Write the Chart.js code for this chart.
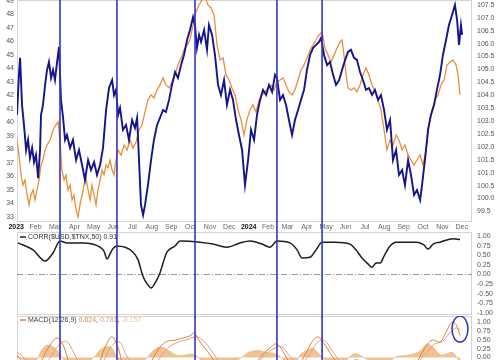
<!DOCTYPE html>
<html>
<head>
<meta charset="utf-8">
<script src="https://cdn.jsdelivr.net/npm/chart.js@4.4.1/dist/chart.umd.min.js"></script>
<style>
  html, body { margin: 0; padding: 0; background: #fff; overflow: hidden; }
  #wrap { position: relative; width: 500px; height: 360px; overflow: hidden; background: #fff; }
  canvas { position: absolute; left: 0; }
</style>
</head>
<body>
<div id="wrap">
  <canvas id="price" width="500" height="232" style="top:0px"></canvas>
  <canvas id="corr" width="500" height="86" style="top:232px"></canvas>
  <canvas id="macd" width="500" height="56" style="top:316px"></canvas>
</div>
<script>
// x axis is in months since Jan 2023
const monthLabels = ['2023','Feb','Mar','Apr','May','Jun','Jul','Aug','Sep','Oct','Nov','Dec',
                     '2024','Feb','Mar','Apr','May','Jun','Jul','Aug','Sep','Oct','Nov','Dec'];
const markerMonths = [2.26, 5.20, 9.23, 13.46, 15.79];

// $USD (right axis)
const usdMonths = [0.04,0.14,0.20,0.30,0.40,0.51,0.61,0.71,0.82,0.92,1.02,1.13,1.23,1.28,1.38,1.49,1.59,1.69,1.80,1.90,
  2.00,2.11,2.21,2.31,2.42,2.52,2.62,2.78,2.93,3.09,3.24,3.40,3.55,3.71,3.86,4.02,4.17,4.33,4.48,4.64,
  4.79,4.95,5.05,5.15,5.26,5.36,5.51,5.67,5.82,5.98,6.13,6.24,6.34,6.44,6.55,6.65,6.80,6.96,7.11,7.27,
  7.42,7.58,7.73,7.89,8.04,8.20,8.35,8.51,8.66,8.82,8.97,9.13,9.23,9.33,9.44,9.54,9.70,9.85,9.95,10.11,
  10.26,10.42,10.57,10.73,10.88,11.04,11.19,11.35,11.50,11.66,11.81,11.97,12.12,12.28,12.43,12.59,12.74,12.90,13.05,13.21,
  13.36,13.46,13.62,13.77,13.93,14.08,14.24,14.39,14.55,14.70,14.86,15.01,15.17,15.32,15.48,15.63,15.74,15.89,16.05,16.20,
  16.36,16.51,16.67,16.82,16.98,17.13,17.28,17.44,17.59,17.75,17.90,18.06,18.21,18.37,18.52,18.68,18.83,18.99,19.14,19.30,
  19.45,19.61,19.76,19.92,20.07,20.23,20.38,20.54,20.69,20.85,20.95,21.10,21.26,21.41,21.57,21.72,21.88,22.03,22.19,22.34,
  22.50,22.65,22.76,22.86,22.96,23.02];
const usdValues = [103.24,104.79,105.45,103.62,102.85,101.88,102.27,101.57,101.96,101.41,
  101.69,100.79,101.88,103.24,103.62,104.40,104.98,105.29,104.67,104.98,
  104.59,105.29,105.87,103.82,103.12,102.27,102.46,101.96,102.27,101.49,
  101.88,101.30,100.72,101.49,101.10,101.41,100.91,101.30,101.96,103.43,
  104.28,104.59,104.01,104.21,103.24,103.51,102.66,102.85,102.27,103.04,
  102.73,103.12,101.49,99.75,99.36,99.75,100.52,101.49,102.27,102.85,
  103.12,103.43,103.35,103.82,104.40,104.90,104.67,105.17,105.56,106.14,
  106.53,107.03,106.72,105.83,106.34,106.07,106.53,105.76,106.72,106.34,
  105.56,104.40,104.01,104.59,103.62,104.21,103.82,103.04,102.46,101.88,
  100.52,101.49,102.66,102.27,103.24,103.82,104.21,104.01,104.40,104.13,
  104.79,104.67,103.82,104.01,103.62,103.04,102.46,103.04,103.43,103.82,
  104.21,104.98,105.56,105.83,105.95,106.07,106.22,105.56,105.17,105.29,
  104.79,104.40,104.59,104.98,105.37,105.68,105.76,105.45,105.37,104.90,
  104.59,104.21,104.28,104.01,104.21,103.82,104.01,103.43,102.66,103.04,
  101.49,101.88,100.91,101.10,100.52,101.49,100.91,100.14,100.33,99.94,
  100.52,101.49,102.66,103.24,103.62,104.21,104.79,105.56,106.14,106.72,
  107.11,107.50,106.92,105.95,106.72,106.34];

// $TNX (left axis)
const tnxMonths = [0.04,0.14,0.25,0.35,0.45,0.56,0.66,0.76,0.87,0.97,1.07,1.18,1.28,1.38,1.49,1.59,1.75,1.90,2.05,2.16,
  2.26,2.36,2.47,2.57,2.67,2.78,2.88,2.98,3.09,3.19,3.29,3.40,3.50,3.60,3.71,3.81,3.91,4.02,4.12,4.22,
  4.33,4.43,4.53,4.64,4.74,4.84,4.95,5.05,5.15,5.26,5.41,5.57,5.72,5.88,6.03,6.19,6.34,6.49,6.65,6.80,
  6.96,7.11,7.27,7.42,7.58,7.73,7.89,8.04,8.20,8.35,8.51,8.66,8.82,8.97,9.13,9.28,9.44,9.59,9.75,9.90,
  10.06,10.21,10.37,10.52,10.68,10.83,10.99,11.14,11.30,11.45,11.61,11.76,11.91,12.07,12.22,12.38,12.54,12.69,12.85,13.00,
  13.15,13.31,13.46,13.62,13.77,13.93,14.08,14.24,14.39,14.55,14.70,14.86,15.01,15.17,15.32,15.48,15.63,15.79,15.94,16.10,
  16.25,16.41,16.56,16.72,16.82,16.92,17.03,17.13,17.28,17.44,17.59,17.75,17.90,18.06,18.21,18.37,18.52,18.68,18.83,18.99,
  19.14,19.30,19.45,19.61,19.76,19.92,20.07,20.23,20.38,20.54,20.69,20.85,21.00,21.16,21.31,21.47,21.62,21.78,21.93,22.09,
  22.24,22.40,22.55,22.71,22.81,22.91];
const tnxValues = [38.70,37.59,36.11,35.37,35.74,34.63,33.89,34.63,35.00,34.26,
  35.00,35.74,36.85,37.22,37.96,38.33,38.70,39.44,39.81,40.04,
  38.70,36.48,35.74,36.11,35.00,35.37,34.26,34.63,33.52,33.00,
  33.89,34.63,35.37,35.89,35.00,34.26,35.37,34.63,33.89,35.00,
  35.74,36.48,36.11,36.85,36.63,37.22,36.48,36.11,37.22,37.96,
  37.59,38.33,37.96,38.70,38.11,38.56,39.44,39.81,40.78,41.67,
  42.04,41.81,42.41,42.78,43.30,42.78,42.56,43.00,43.52,44.26,
  44.78,45.37,45.74,46.11,47.22,48.19,48.70,49.07,49.30,48.70,
  48.48,47.96,45.74,44.63,44.78,43.52,43.15,42.56,42.04,40.93,
  40.19,39.07,40.19,40.93,41.30,40.78,41.67,42.04,42.26,42.56,
  42.78,42.41,43.00,43.15,43.30,42.78,42.26,42.04,42.41,43.15,
  43.89,44.26,44.78,45.37,45.74,46.11,46.48,46.70,45.52,45.00,
  44.48,45.00,45.52,45.96,46.11,45.00,43.52,42.56,42.41,42.56,
  42.26,42.78,43.52,44.04,43.52,42.78,42.26,41.67,40.93,39.44,
  37.96,38.70,38.33,39.07,38.70,37.96,38.33,37.59,37.22,36.85,
  37.22,37.59,36.85,37.96,39.81,40.93,41.67,42.04,42.78,43.15,
  44.26,44.48,44.63,44.26,43.52,42.04];

// CORR($USD,$TNX,50)
const corrMonths = [0.09,0.87,1.49,1.90,2.26,2.62,3.45,4.33,4.53,4.69,4.84,4.95,5.20,6.03,6.29,6.55,6.80,6.96,7.17,7.42,
  7.63,7.78,8.20,8.46,9.49,10.16,10.52,10.88,11.55,12.07,12.69,13.10,13.46,14.13,14.50,14.75,15.17,15.48,15.79,16.46,
  17.23,17.54,17.85,18.17,18.37,18.58,18.79,18.99,19.30,19.61,20.69,21.05,21.26,21.52,21.88,22.55,22.91];
const corrValues = [0.82,0.64,0.35,0.56,0.87,0.82,0.82,0.71,0.61,0.40,0.53,0.64,0.74,0.58,0.38,-0.06,-0.27,-0.35,-0.22,0.04,
  0.38,0.58,0.74,0.87,0.84,0.79,0.74,0.71,0.82,0.87,0.79,0.71,0.87,0.82,0.64,0.43,0.45,0.64,0.84,0.84,
  0.79,0.64,0.43,0.27,0.19,0.30,0.30,0.48,0.74,0.84,0.84,0.77,0.66,0.79,0.84,0.93,0.91];

// MACD(12,26,9)
const macdMonths = [0.04,0.45,0.97,1.33,1.75,2.11,2.42,2.78,3.29,3.81,4.33,4.64,4.95,5.26,5.62,6.13,6.65,6.91,7.32,7.73,
  8.20,8.61,8.97,9.18,9.49,10.01,10.52,11.04,11.55,12.07,12.59,13.10,13.46,13.88,14.39,14.91,15.27,15.58,15.94,16.46,
  16.98,17.49,18.01,18.53,19.04,19.56,20.07,20.59,21.10,21.47,21.88,22.24,22.50,22.71,22.91];
const macdValues = [0.07,-0.21,-0.49,-0.07,0.35,0.55,0.35,-0.21,-0.63,-0.49,-0.07,0.35,0.58,0.27,-0.35,-0.49,-0.63,-0.21,0.21,0.44,
  0.49,0.55,0.61,0.69,0.44,0.07,-0.35,-0.77,-0.77,-0.49,-0.01,0.27,0.38,0.07,-0.35,0.07,0.44,0.58,0.35,-0.07,
  -0.35,-0.07,-0.21,-0.49,-0.77,-0.63,-0.49,-0.21,0.27,0.49,0.44,0.77,1.00,0.92,0.62];
const signalMonths = [0.04,0.6,1.2,1.7,2.2,2.6,3.0,3.5,4.0,4.5,4.9,5.3,5.7,6.2,6.8,7.3,7.8,8.3,8.8,9.3,
  9.7,10.2,10.7,11.3,11.8,12.3,12.8,13.3,13.7,14.1,14.6,15.1,15.5,15.9,16.3,16.8,17.3,17.8,18.3,18.8,
  19.3,19.8,20.3,20.8,21.2,21.6,22.0,22.4,22.7,22.91];
const signalValues = [0.15,-0.10,-0.35,-0.05,0.35,0.45,0.10,-0.40,-0.45,-0.10,0.30,0.45,0.05,-0.35,-0.50,-0.10,0.25,0.42,0.50,0.58,
  0.45,0.10,-0.30,-0.65,-0.70,-0.35,0.05,0.25,0.30,0.05,-0.20,0.05,0.40,0.48,0.20,-0.15,-0.20,-0.15,-0.30,-0.55,
  -0.65,-0.55,-0.40,-0.10,0.15,0.38,0.45,0.70,0.83,0.78];
const histMonths = [0.04,0.5,1.0,1.3,1.6,1.9,2.2,2.5,3.0,3.5,4.0,4.3,4.6,4.9,5.2,5.6,6.1,6.6,7.0,7.4,
  7.8,8.2,8.6,9.0,9.3,9.6,10.1,10.6,11.0,11.5,12.0,12.5,12.9,13.3,13.7,14.2,14.7,15.0,15.3,15.6,
  16.0,16.5,17.0,17.4,17.7,18.1,18.6,19.1,19.6,20.0,20.5,20.9,21.2,21.5,21.9,22.2,22.5,22.7,22.91];
const histValues = [0.05,-0.1,-0.1,0.2,0.35,0.3,0.15,-0.1,-0.3,-0.2,0.0,0.2,0.3,0.28,0.0,-0.35,-0.25,-0.1,0.15,0.3,
  0.22,0.08,0.06,0.1,0.05,-0.1,-0.1,-0.15,-0.12,-0.05,0.15,0.2,0.15,0.12,0.0,-0.3,0.1,0.2,0.25,0.12,
  -0.1,-0.25,-0.1,0.1,0.08,-0.05,-0.2,-0.2,0.02,0.05,0.1,0.2,0.38,0.3,0.08,0.1,0.15,0.05,-0.16];
const macdCallout = [22.91, 0.80];

const tnxTicks = [33,34,35,36,37,38,39,40,41,42,43,44,45,46,47,48,49];
const usdTicks = [99.5,100,100.5,101,101.5,102,102.5,103,103.5,104,104.5,105,105.5,106,106.5,107,107.5];
const corrTicks = [1,0.75,0.5,0.25,0,-0.25,-0.5,-0.75,-1];
const macdTicks = [1,0.75,0.5,0.25,0];

const FONT = "'Liberation Sans', Arial, sans-serif";
const X_MIN = 0.04, X_MAX = 23.53;

function points(xs, ys) {
    return xs.map((x, i) => ({ x, y: ys[i] }));
}

function fixedTicks(values) {
    return scale => { scale.ticks = values.map(v => ({ value: v })); };
}

function fitAxis(width) {
    return scale => {
        scale.paddingTop = 0;
        scale.paddingBottom = 0;
        scale.paddingLeft = 0;
        scale.paddingRight = 0;
        scale.width = width;
    };
}

function isYear(c) {
    return c.tick && c.tick.value % 12 === 0;
}

function monthAxis(visible) {
    return {
        type: 'linear',
        min: X_MIN,
        max: X_MAX,
        display: visible,
        afterBuildTicks: fixedTicks(monthLabels.map((_, i) => i)),
        afterFit: s => {
            s.paddingLeft = 0;
            s.paddingRight = 0;
            s.height = visible ? 10 : 0;
        },
        grid: { display: false, drawTicks: false },
        border: { display: false },
        ticks: {
            autoSkip: false,
            maxRotation: 0,
            padding: 1,
            callback: v => monthLabels[v],
            color: c => (isYear(c) ? '#111' : '#666'),
            font: c => ({ family: FONT, size: 7, weight: isYear(c) ? 'bold' : 'normal' })
        }
    };
}

function valueAxis(position, min, max, ticks, digits, width) {
    return {
        type: 'linear',
        position,
        min,
        max,
        afterBuildTicks: fixedTicks(ticks),
        afterFit: fitAxis(width),
        grid: { display: false, drawTicks: false },
        border: { display: false },
        ticks: {
            autoSkip: false,
            padding: position === 'right' ? 5 : 3,
            color: '#555',
            font: { family: FONT, size: 7 },
            callback: v => v.toFixed(digits)
        }
    };
}

const frame = {
    id: 'frame',
    beforeDatasetsDraw(chart) {
        const { ctx, chartArea: a } = chart;
        ctx.save();
        ctx.strokeStyle = '#d4d4d4';
        ctx.lineWidth = 1;
        ctx.strokeRect(a.left + 0.5, a.top + 0.5, a.right - a.left - 1, a.bottom - a.top - 1);
        ctx.restore();
    }
};

const markers = {
    id: 'markers',
    afterDraw(chart) {
        const { ctx } = chart;
        const x = chart.scales.x;
        ctx.save();
        ctx.strokeStyle = '#3434c4';
        ctx.lineWidth = 1.6;
        markerMonths.forEach(m => {
            const px = x.getPixelForValue(m);
            ctx.beginPath();
            ctx.moveTo(px, 0);
            ctx.lineTo(px, chart.height);
            ctx.stroke();
        });
        ctx.restore();
    }
};

const panelTitle = {
    id: 'panelTitle',
    afterDatasetsDraw(chart, args, opts) {
        if (!opts || !opts.parts) return;
        const { ctx, chartArea: a } = chart;
        let x = a.left + 3;
        const y = a.top + opts.dy;
        ctx.save();
        ctx.strokeStyle = opts.dash;
        ctx.lineWidth = 1.5;
        ctx.beginPath();
        ctx.moveTo(x, y);
        ctx.lineTo(x + 6, y);
        ctx.stroke();
        x += 8;
        ctx.font = '7px ' + FONT;
        ctx.textBaseline = 'middle';
        opts.parts.forEach(p => {
            ctx.fillStyle = p.color;
            ctx.fillText(p.text, x, y);
            x += ctx.measureText(p.text).width;
        });
        ctx.restore();
    }
};

const callout = {
    id: 'callout',
    afterDraw(chart, args, opts) {
        if (!opts || !opts.at) return;
        const { ctx } = chart;
        const px = chart.scales.x.getPixelForValue(opts.at[0]);
        const py = chart.scales.y.getPixelForValue(opts.at[1]);
        ctx.save();
        ctx.strokeStyle = '#2e2eb8';
        ctx.lineWidth = 1.5;
        ctx.beginPath();
        ctx.ellipse(px, py, 8, 13, 0, 0, Math.PI * 2);
        ctx.stroke();
        ctx.restore();
    }
};

function baseOptions(extraPlugins, padding) {
    return {
        responsive: false,
        animation: false,
        devicePixelRatio: 1,
        events: [],
        layout: { padding },
        elements: { point: { radius: 0 } },
        plugins: Object.assign({
            legend: { display: false },
            tooltip: { enabled: false }
        }, extraPlugins)
    };
}

// main price panel
const priceOptions = baseOptions({}, 0);
priceOptions.scales = {
    x: monthAxis(true),
    tnx: valueAxis('left', 32.63, 49.07, tnxTicks, 0, 17),
    usd: valueAxis('right', 99.09, 107.69, usdTicks, 1, 28)
};
new Chart(document.getElementById('price'), {
    type: 'line',
    data: {
        datasets: [
            {
                label: '$USD',
                data: points(usdMonths, usdValues),
                yAxisID: 'usd',
                borderColor: '#14148c',
                borderWidth: 1.9,
                tension: 0
            },
            {
                label: '$TNX',
                data: points(tnxMonths, tnxValues),
                yAxisID: 'tnx',
                borderColor: '#e8903c',
                borderWidth: 1.3,
                tension: 0
            }
        ]
    },
    options: priceOptions,
    plugins: [frame, markers]
});

// correlation panel
const corrOptions = baseOptions({
    panelTitle: { dy: 5, dash: '#222', parts: [{ text: 'CORR($USD,$TNX,50) 0.91', color: '#333' }] }
}, { left: 17, bottom: 3 });
corrOptions.scales = {
    x: monthAxis(false),
    y: valueAxis('right', -1.052, 1.104, corrTicks, 2, 28)
};
new Chart(document.getElementById('corr'), {
    type: 'line',
    data: {
        datasets: [
            {
                label: 'CORR',
                data: points(corrMonths, corrValues),
                borderColor: '#1e1e1e',
                borderWidth: 1.5,
                cubicInterpolationMode: 'monotone',
                order: 0
            },
            {
                label: 'zero',
                data: [{ x: X_MIN, y: 0 }, { x: X_MAX, y: 0 }],
                borderColor: '#9a9a9a',
                borderWidth: 1,
                borderDash: [6, 2, 1, 2],
                order: 1
            }
        ]
    },
    options: corrOptions,
    plugins: [frame, panelTitle, markers]
});

// MACD panel
const macdOptions = baseOptions({
    panelTitle: {
        dy: 4,
        dash: '#d9823b',
        parts: [
            { text: 'MACD(12,26,9) ', color: '#444' },
            { text: '0.624', color: '#e0913f' },
            { text: ', ', color: '#444' },
            { text: '0.781', color: '#e39a78' },
            { text: ', ', color: '#444' },
            { text: '-0.157', color: '#f0c49a' }
        ]
    },
    callout: { at: macdCallout }
}, { left: 17 });
macdOptions.scales = {
    x: monthAxis(false),
    y: valueAxis('right', -0.41, 1.17, macdTicks, 2, 28)
};
new Chart(document.getElementById('macd'), {
    type: 'line',
    data: {
        datasets: [
            {
                label: 'MACD',
                data: points(macdMonths, macdValues),
                borderColor: '#d9823b',
                borderWidth: 1,
                tension: 0.4,
                order: 0
            },
            {
                label: 'Signal',
                data: points(signalMonths, signalValues),
                borderColor: '#e79a86',
                borderWidth: 1,
                tension: 0.4,
                order: 1
            },
            {
                label: 'Histogram',
                data: points(histMonths, histValues),
                borderColor: '#e2a76c',
                backgroundColor: 'rgba(236, 178, 120, 0.8)',
                borderWidth: 0.5,
                fill: 'origin',
                tension: 0.3,
                order: 2
            }
        ]
    },
    options: macdOptions,
    plugins: [frame, panelTitle, markers, callout]
});
</script>
</body>
</html>
